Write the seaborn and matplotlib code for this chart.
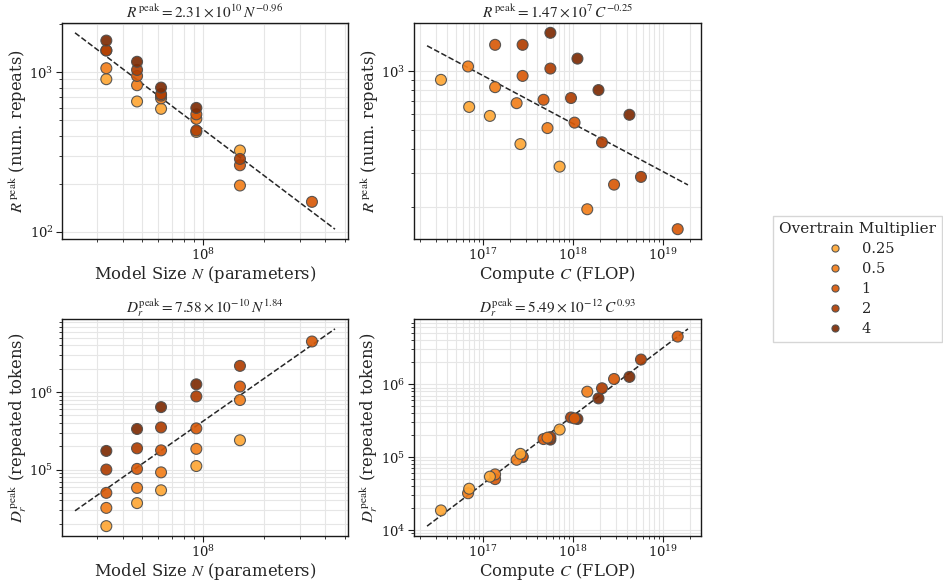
import numpy as np
import pandas as pd
import matplotlib
matplotlib.use("Agg")
import matplotlib.pyplot as plt
import seaborn as sns

# ── data (one entry per run) ────────────────────────────────────────────────
model_size = ([3.32e7] * 5 + [4.71e7] * 5 + [6.19e7] * 5 + [9.25e7] * 5
              + [1.52e8] * 4 + [3.45e8])
multiplier = (["0.25", "0.5", "1", "2", "4"] * 4
              + ["0.25", "0.5", "1", "2"] + ["1"])
compute = [3.4e16, 6.8e16, 1.36e17, 2.75e17, 5.6e17,
           7.0e16, 1.36e17, 2.75e17, 5.6e17, 1.12e18,
           1.19e17, 2.36e17, 4.7e17, 9.5e17, 1.92e18,
           2.6e17, 5.2e17, 1.04e18, 2.1e18, 4.24e18,
           7.1e17, 1.44e18, 2.86e18, 5.7e18,
           1.46e19]
r_peak = [903, 1058, 1367, 1367, 1576,
          655, 828, 946, 1032, 1161,
          589, 685, 713, 728, 800,
          422, 510, 544, 431, 597,
          323, 195, 261, 286,
          154]
d_peak = [1.86e4, 3.2e4, 5.0e4, 1.0e5, 1.74e5,
          3.69e4, 5.8e4, 1.02e5, 1.88e5, 3.34e5,
          5.4e4, 9.2e4, 1.77e5, 3.5e5, 6.4e5,
          1.11e5, 1.85e5, 3.4e5, 8.8e5, 1.26e6,
          2.39e5, 7.9e5, 1.18e6, 2.18e6,
          4.5e6]

mult_order = ["0.25", "0.5", "1", "2", "4"]
titles = [
    r"$R^{\,\mathrm{peak}}=2.31\times10^{10}\,N^{-0.96}$",
    r"$R^{\,\mathrm{peak}}=1.47\times10^{7}\,C^{-0.25}$",
    r"$D_r^{\mathrm{peak}}=7.58\times10^{-10}\,N^{1.84}$",
    r"$D_r^{\mathrm{peak}}=5.49\times10^{-12}\,C^{0.93}$",
]

df = pd.DataFrame({"N": model_size, "C": compute, "R": r_peak,
                   "D": d_peak, "mult": multiplier})

sns.set_style("whitegrid", {"axes.edgecolor": "0.1", "grid.color": "0.9",
                            "xtick.bottom": True, "ytick.left": True})
plt.rcParams.update({
    "font.family": "serif",
    "font.serif": ["DejaVu Serif"],
    "mathtext.fontset": "stix",
    "axes.linewidth": 1.0,
    "xtick.major.size": 4, "ytick.major.size": 4,
    "xtick.minor.size": 2.5, "ytick.minor.size": 2.5,
    "xtick.major.pad": 2, "ytick.major.pad": 2,
    "xtick.color": "0.1", "ytick.color": "0.1",
})

cmap = sns.color_palette("YlOrBr", as_cmap=True)
palette = [cmap(v) for v in (0.46, 0.58, 0.70, 0.82, 0.94)]

fig = plt.figure(figsize=(9.43, 5.84), dpi=100)
W, H = 943, 584
boxes = [(62, 23, 348, 239), (414, 23, 701, 239),
         (62, 319, 348, 536), (414, 319, 701, 536)]
axes = [fig.add_axes([x0 / W, 1 - y1 / H, (x1 - x0) / W, (y1 - y0) / H])
        for x0, y0, x1, y1 in boxes]

panels = [("N", "R"), ("C", "R"), ("N", "D"), ("C", "D")]
xlabels = {"N": r"Model Size $N$ (parameters)", "C": r"Compute $C$ (FLOP)"}
ylabels = {"R": r"$R^{\,\mathrm{peak}}$ (num. repeats)",
           "D": r"$D_r^{\,\mathrm{peak}}$ (repeated tokens)"}

for i, (ax, (xc, yc)) in enumerate(zip(axes, panels)):
    ax.set_xscale("log")
    ax.set_yscale("log")
    # power-law fit in log space, drawn a bit past the data
    k, b = np.polyfit(np.log10(df[xc]), np.log10(df[yc]), 1)
    xs = np.array([0.7 * df[xc].min(), 1.3 * df[xc].max()])
    ax.plot(xs, 10 ** b * xs ** k, ls="--", color="0.15", lw=1.1, zorder=1)
    sns.scatterplot(data=df, x=xc, y=yc, hue="mult", hue_order=mult_order,
                    palette=palette, s=62, edgecolor="0.3", linewidth=0.8,
                    alpha=0.92, ax=ax, legend=(i == 0), zorder=3)
    ax.grid(True, which="both", color="0.9", lw=0.8)
    ax.set_axisbelow(True)
    ax.set_title(titles[i], fontsize=11, pad=4)
    ax.set_xlabel(xlabels[xc], fontsize=11.8, labelpad=0.5)
    ax.set_ylabel(ylabels[yc], fontsize=11.8, labelpad=0.5)
    ax.tick_params(labelsize=9.5)
    for sp in ax.spines.values():
        sp.set_visible(True)
        sp.set_color("0.1")

handles, labels = axes[0].get_legend_handles_labels()
axes[0].get_legend().remove()
leg = fig.legend(handles, labels, title="Overtrain Multiplier",
                 loc="center left", bbox_to_anchor=(773 / W, 1 - 279 / H),
                 fontsize=10.5, title_fontsize=11, markerscale=0.65,
                 frameon=True, fancybox=False, edgecolor="0.8",
                 handletextpad=0.8, labelspacing=0.42, borderaxespad=0)
leg.get_frame().set_linewidth(1.0)

plt.savefig("out.png", dpi=100)
plt.close()
